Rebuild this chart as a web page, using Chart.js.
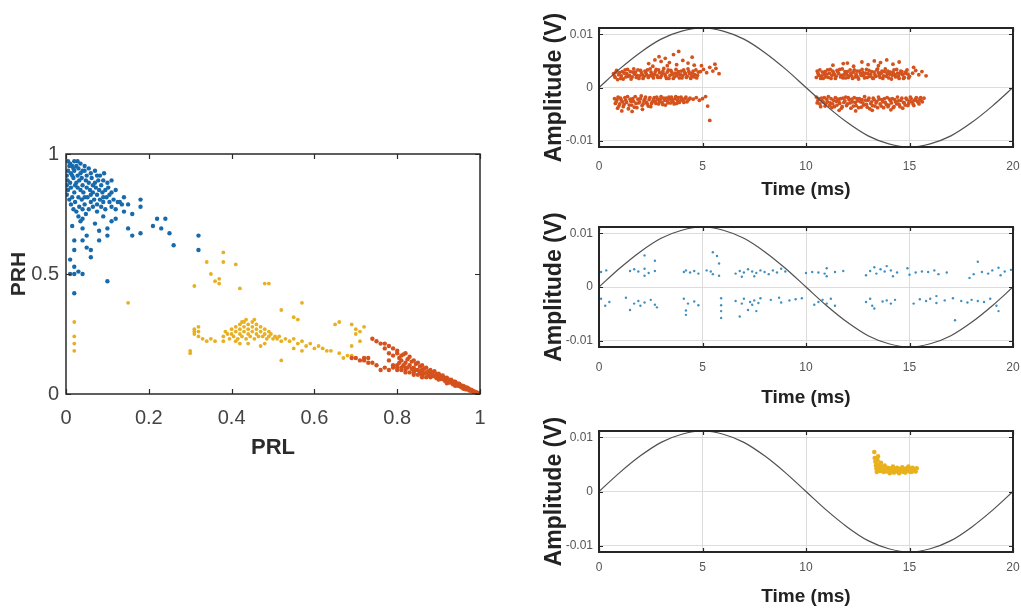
<!DOCTYPE html>
<html><head><meta charset="utf-8">
<script src="https://cdn.jsdelivr.net/npm/chart.js@4.4.0/dist/chart.umd.min.js"></script>
<style>
html,body{margin:0;padding:0;background:#fff;}
#wrap{position:relative;width:1021px;height:609px;overflow:hidden;background:#fff;}
canvas{position:absolute;}
</style></head><body>
<div id="wrap">
<canvas id="c0" width="520" height="345" style="left:0;top:120px;width:520px;height:345px"></canvas>
<canvas id="c1" width="491" height="205" style="left:530px;top:0;width:491px;height:205px"></canvas>
<canvas id="c2" width="491" height="205" style="left:530px;top:205px;width:491px;height:205px"></canvas>
<canvas id="c3" width="491" height="199" style="left:530px;top:410px;width:491px;height:199px"></canvas>
</div>
<script>
// ---------- DATA ----------
// Left scatter: flat [PRL, PRH, PRL, PRH, ...]
const leftBlue = [
0.005,.97,0.01,.96,0.015,.95,0.02,.97,0.025,.95,0.03,.94,0.035,.96,0.04,.93,
0.005,.93,0.012,.92,0.02,.93,0.028,.91,0.035,.92,0.045,.93,0.05,.91,0.055,.94,0.06,.92,0.07,.93,0.075,.91,
0.004,.89,0.01,.88,0.018,.9,0.025,.88,0.032,.89,0.04,.87,0.048,.89,0.055,.88,0.062,.9,0.07,.88,0.078,.89,0.085,.87,0.09,.89,0.1,.88,0.11,.89,
0.005,.85,0.012,.86,0.02,.84,0.028,.86,0.035,.85,0.042,.84,0.05,.86,0.058,.85,0.065,.84,0.072,.86,0.08,.85,0.088,.84,0.095,.85,0.102,.86,0.11,.84,0.12,.85,
0.008,.81,0.015,.82,0.022,.8,0.03,.82,0.038,.81,0.045,.79,0.052,.82,0.06,.8,0.068,.81,0.075,.79,0.082,.81,0.09,.8,0.098,.82,0.105,.8,0.115,.81,0.125,.8,0.135,.79,
0.018,.77,0.025,.76,0.032,.78,0.04,.77,0.048,.75,0.055,.77,0.065,.78,0.075,.76,0.085,.78,0.095,.77,0.11,.78,0.12,.77,
0.03,.74,0.04,.73,0.035,.72,
0.008,.95,0.018,.94,0.028,.97,0.045,.95,0.015,.91,0.038,.9,0.065,.87,0.082,.91,0.092,.92,0.022,.87,0.045,.82,0.06,.83,0.075,.83,0.09,.82,0.105,.83,0.002,.91,0.002,.87,0.002,.83,0.012,.79,
0.18,.81,0.18,.78,0.15,.69,0.16,.66,0.18,.67,0.21,.7,0.22,.73,0.23,.69,0.24,.73,0.25,.67,0.26,.62,0.32,.66,0.32,.6,
0.1,.69,0.1,.66,0.08,.64,0.08,.68,0.06,.57,0.06,.6,0.04,.64,0.02,.6,0.02,.64,0.04,.69,0.01,.5,0.02,.5,0.03,.51,0.04,.5,
0.02,.42,0.02,.53,0.1,.47,0.05,.66,0.07,.71,0.11,.72,0.13,.8,0.14,.82,0.15,.79,0.14,.76,0.16,.75,0.12,.73,0.09,.74,0.05,.61,0.01,.56,0.015,.7
];
const leftYellow = [
0.38,.24,0.385,.26,0.39,.25,0.395,.23,0.4,.27,0.4,.25,0.405,.24,0.41,.28,0.41,.26,0.415,.23,0.42,.29,0.42,.27,0.42,.25,0.425,.24,
0.43,.3,0.43,.28,0.43,.26,0.435,.23,0.44,.29,0.44,.27,0.44,.25,0.445,.24,0.45,.3,0.45,.28,0.45,.26,0.455,.23,0.46,.29,0.46,.27,
0.46,.25,0.465,.24,0.47,.28,0.47,.26,0.475,.24,0.48,.27,0.48,.25,0.485,.23,0.49,.26,0.49,.24,0.495,.25,0.5,.23,0.505,.24,0.51,.23,
0.515,.24,0.52,.22,0.41,.22,0.44,.21,0.48,.21,0.425,.3,0.455,.31,0.435,.31,0.47,.2,0.42,.21,
0.31,.27,0.31,.25,0.32,.28,0.32,.24,0.33,.23,0.34,.22,0.35,.23,0.36,.22,0.38,.22,0.31,.26,0.32,.26,
0.3,.17,0.3,.18,0.15,.38,0.02,.3,0.02,.24,0.02,.21,0.02,.18,
0.31,.45,0.34,.55,0.35,.5,0.36,.47,0.37,.46,0.37,.48,0.38,.59,0.38,.55,0.41,.54,0.42,.44,0.48,.46,0.49,.46,
0.57,.38,0.52,.35,0.55,.32,0.56,.31,0.65,.29,0.66,.3,0.52,.14,
0.69,.29,0.7,.27,0.71,.26,0.72,.28,0.7,.25,0.71,.22,0.69,.2,
0.53,.23,0.54,.22,0.55,.23,0.56,.21,0.57,.22,0.58,.2,0.59,.21,0.6,.19,0.61,.2,0.62,.19,0.63,.18,0.64,.18,0.55,.19,0.57,.18,
0.66,.17,0.68,.16,0.69,.16,0.67,.15
];
const leftOrange = [
0.8,.17,0.8,.12,0.805,.15,0.805,.13,0.81,.16,0.81,.14,0.81,.11,0.815,.165,0.815,.12,0.82,.17,0.82,.13,0.82,.1,0.825,.145,0.825,.11,
0.83,.155,0.83,.12,0.835,.135,0.835,.105,0.84,.14,0.84,.11,0.84,.09,0.845,.125,0.845,.1,0.85,.13,0.85,.1,0.855,.115,0.855,.09,
0.86,.12,0.86,.1,0.86,.08,0.865,.105,0.865,.085,0.87,.11,0.87,.09,0.875,.095,0.875,.078,0.88,.1,0.88,.085,0.88,.07,0.885,.09,
0.885,.074,0.89,.095,0.89,.075,0.895,.082,0.895,.066,0.9,.085,0.9,.07,0.9,.06,0.905,.076,0.905,.062,0.91,.077,0.91,.062,
0.915,.068,0.915,.055,0.92,.068,0.92,.055,0.92,.045,0.925,.06,0.925,.048,0.93,.06,0.93,.048,0.935,.052,0.935,.04,0.94,.051,
0.94,.04,0.94,.034,0.945,.044,0.945,.035,0.95,.043,0.95,.033,0.955,.036,0.955,.028,0.96,.034,0.96,.026,0.96,.022,0.965,.028,
0.965,.02,0.97,.026,0.97,.019,0.975,.02,0.975,.014,0.98,.017,0.98,.012,0.985,.012,0.985,.008,0.99,.009,0.99,.006,0.995,.004,1.0,.001,
0.74,.23,0.75,.22,0.76,.21,0.77,.21,0.78,.2,0.79,.19,0.8,.18,0.79,.16,0.78,.14,0.77,.19,0.78,.17,
0.76,.1,0.77,.11,0.78,.1,0.79,.11,0.8,.1,0.81,.1,0.82,.09,0.83,.09,0.84,.08,0.85,.08,0.86,.07,0.87,.07,0.79,.12,0.8,.11,0.82,.11,0.84,.1,0.86,.09,
0.7,.15,0.71,.14,0.72,.14,0.73,.13,0.72,.15,0.69,.15,0.74,.13,0.75,.12,0.73,.15
];
const prlTicks = [0, 0.2, 0.4, 0.6, 0.8, 1];
const prhTicks = [0, 0.5, 1];

// Reference sine (time in ms, amplitude in V)
const sineT = [0,1,2,3,4,5,6,7,8,9,10,11,12,13,14,15,16,17,18,19,20];
const sineV = [0,.0035,.0066,.0091,.0106,.0112,.0106,.0091,.0066,.0035,0,-.0035,-.0066,-.0091,-.0106,-.0112,-.0106,-.0091,-.0066,-.0035,0];
const timeTicks = [0, 5, 10, 15, 20];
const ampTicks = [-0.01, 0, 0.01];

// Top panel (orange cluster), flat [t, V, ...]
const panel1Orange = [
0.7,.0026,0.78,.0019,0.85,.0032,0.95,.0024,1.05,.0017,1.12,.003,1.22,.0027,1.3,.002,1.38,.0034,1.47,.0023,1.55,.0016,1.63,.0029,
1.72,.0025,1.8,.0019,1.88,.0033,1.97,.0022,2.05,.0028,2.13,.0017,2.22,.0031,2.3,.0024,2.38,.0019,2.47,.0035,2.55,.0026,2.63,.0018,
2.72,.003,2.8,.0023,2.88,.0033,2.97,.0019,3.05,.0027,3.13,.0036,3.22,.0021,3.3,.0029,3.38,.0017,3.47,.0032,3.55,.0025,3.63,.002,
3.72,.0034,3.8,.0026,3.88,.0018,3.97,.0031,4.05,.0023,4.13,.0029,4.22,.0019,4.3,.0035,4.38,.0026,4.47,.0021,4.55,.0031,4.63,.0024,
4.72,.0018,4.8,.0029,
4.9,.003,5.05,.0034,5.2,.0028,5.35,.0038,5.5,.0031,5.65,.0036,5.8,.0026,4.95,.0041,5.6,.0044,
2.4,.0045,2.7,.0052,2.9,.0058,3.0,.0049,3.2,.0055,3.4,.0047,3.6,.0062,3.85,.0068,4.05,.0051,4.3,.0046,4.5,.0057,3.3,.0041,2.6,.004,3.75,.0043,4.6,.0042,
0.75,-.0021,0.83,-.0027,0.92,-.0018,1.0,-.0031,1.08,-.0024,1.17,-.0036,1.25,-.0019,1.33,-.0028,1.42,-.004,1.5,-.0022,1.58,-.0033,
1.67,-.0026,1.75,-.0017,1.83,-.0038,1.92,-.0029,2.0,-.0021,2.08,-.0034,2.17,-.0025,2.25,-.0018,2.33,-.0031,2.42,-.0023,2.5,-.0036,
2.58,-.0027,2.67,-.0019,2.75,-.003,2.83,-.0022,2.92,-.0026,3.0,-.0017,3.08,-.0032,3.17,-.0024,3.25,-.002,3.33,-.0029,3.42,-.0022,
3.5,-.0018,3.58,-.0027,3.67,-.0021,3.75,-.003,3.83,-.0019,3.92,-.0025,4.0,-.0021,4.1,-.0028,4.2,-.0018,4.3,-.0024,4.4,-.002,
4.55,-.0022,4.7,-.0019,4.85,-.0024,5.0,-.0021,5.15,-.0017,5.25,-.0035,5.35,-.0062,1.1,-.0044,1.6,-.0045,2.1,-.0041,0.9,-.0039,
10.5,.0019,10.58,.0027,10.67,.0033,10.75,.0022,10.83,.0017,10.92,.003,11.0,.0025,11.08,.0019,11.17,.0034,11.25,.0023,11.33,.0028,
11.42,.0017,11.5,.0032,11.58,.0026,11.67,.002,11.75,.0035,11.83,.0024,11.92,.0018,12.0,.003,12.08,.0022,12.17,.0027,12.25,.0017,
12.33,.0033,12.42,.0025,12.5,.002,12.58,.0031,12.67,.0023,12.75,.0028,12.83,.0018,12.92,.0034,13.0,.0026,13.08,.0021,13.17,.003,
13.25,.0017,13.33,.0024,13.42,.0033,13.5,.0028,13.58,.0019,13.67,.0031,13.75,.0022,13.83,.0035,13.92,.0026,14.0,.0018,14.08,.0029,
14.17,.0023,14.25,.0033,14.33,.002,14.42,.0027,14.5,.0017,14.58,.0031,14.67,.0024,14.75,.0019,14.83,.003,14.92,.0025,15.0,.0021,
15.15,.0027,15.3,.0032,15.45,.0024,15.6,.003,15.8,.0022,15.2,.0038,
11.3,.0042,11.8,.0045,12.3,.004,12.7,.0048,13.0,.0043,13.3,.005,13.6,.0047,13.9,.0052,14.2,.0044,14.5,.0048,12.0,.0046,13.5,.0041,
10.5,-.0018,10.58,-.0024,10.67,-.0031,10.75,-.002,10.83,-.0027,10.92,-.0035,11.0,-.0022,11.08,-.0017,11.17,-.0029,11.25,-.0038,
11.33,-.0024,11.42,-.0019,11.5,-.0033,11.58,-.0026,11.67,-.0021,11.75,-.0036,11.83,-.0028,11.92,-.0018,12.0,-.0031,12.08,-.0023,
12.17,-.0039,12.25,-.0027,12.33,-.0019,12.42,-.0034,12.5,-.0025,12.58,-.0021,12.67,-.0037,12.75,-.0029,12.83,-.0017,12.92,-.0032,
13.0,-.0024,13.08,-.004,13.17,-.0027,13.25,-.002,13.33,-.0035,13.42,-.0026,13.5,-.0018,13.58,-.0031,13.67,-.0023,13.75,-.0038,
13.83,-.0028,13.92,-.0019,14.0,-.0033,14.08,-.0025,14.17,-.0021,14.25,-.0036,14.33,-.0027,14.42,-.0018,14.5,-.0032,14.58,-.0024,
14.67,-.0039,14.75,-.0029,14.83,-.002,14.92,-.0034,15.0,-.0026,15.08,-.0021,15.17,-.0031,15.25,-.0024,15.33,-.0019,15.42,-.0028,
15.5,-.0022,15.58,-.0025,15.7,-.002,11.6,-.0043,12.4,-.0044,13.2,-.0043,14.1,-.0042
];
// Additional samples inside the dense orange bands
const panel1OrangeBand = [
0.74,.0022,0.82,.0029,0.9,.0015,0.99,.0028,1.08,.0022,1.17,.0016,1.26,.0033,1.34,.0026,1.42,.0021,1.51,.003,1.6,.002,1.68,.0035,
1.76,.0029,1.84,.0023,1.93,.0017,2.01,.0032,2.09,.0024,2.18,.0021,2.26,.0028,2.34,.0033,2.43,.0022,2.51,.0029,2.59,.0021,2.68,.0025,
2.76,.0034,2.84,.0019,2.93,.0028,3.01,.0022,3.09,.0031,3.18,.0025,3.26,.0017,3.34,.0033,3.43,.0023,3.51,.0029,3.59,.0017,3.68,.0027,
3.76,.0022,3.84,.003,3.93,.0024,4.01,.0018,4.09,.0033,4.18,.0026,4.26,.0021,4.34,.003,4.43,.0017,4.51,.0027,4.59,.002,4.68,.0033,4.76,.0023,
0.79,-.003,0.87,-.0023,0.96,-.0035,1.04,-.002,1.13,-.0027,1.21,-.0032,1.29,-.0024,1.38,-.0017,1.46,-.0033,1.54,-.0026,1.63,-.0021,
1.71,-.0037,1.79,-.003,1.88,-.0022,1.96,-.0027,2.04,-.0016,2.13,-.0031,2.21,-.0022,2.29,-.0028,2.38,-.0035,2.46,-.0019,2.54,-.003,
2.63,-.0023,2.71,-.0026,2.79,-.0018,2.88,-.0031,2.96,-.0022,3.04,-.0028,3.13,-.002,3.21,-.0033,3.29,-.0025,3.38,-.0018,3.46,-.0029,
3.54,-.0023,3.63,-.0031,3.71,-.0017,3.79,-.0024,3.88,-.0028,3.96,-.0018,4.05,-.0024,4.15,-.0021,4.25,-.0027,4.35,-.0022,
10.54,.0031,10.62,.0023,10.71,.0017,10.79,.0029,10.88,.0024,10.96,.002,11.04,.0033,11.13,.0027,11.21,.0017,11.29,.0031,11.38,.0024,
11.46,.0021,11.54,.0029,11.63,.0034,11.71,.0023,11.79,.0018,11.88,.003,11.96,.0025,12.04,.0019,12.13,.0033,12.21,.0022,12.29,.0029,
12.38,.002,12.46,.0031,12.54,.0016,12.63,.0027,12.71,.0034,12.79,.0022,12.88,.0027,12.96,.0019,13.04,.0032,13.13,.0024,13.21,.0018,
13.29,.0029,13.38,.0021,13.46,.0035,13.54,.0023,13.63,.0027,13.71,.0017,13.79,.003,13.88,.0021,13.96,.0031,14.04,.0025,14.13,.0016,
14.21,.0028,14.29,.0024,14.38,.0034,14.46,.0021,14.54,.0026,14.63,.003,14.71,.0017,14.79,.0027,14.88,.0033,14.96,.0018,
10.54,-.0029,10.62,-.0021,10.71,-.0036,10.79,-.0025,10.88,-.0019,10.96,-.003,11.04,-.0027,11.13,-.0034,11.21,-.0021,11.29,-.0031,
11.38,-.0036,11.46,-.0026,11.54,-.0022,11.63,-.003,11.71,-.0039,11.79,-.002,11.88,-.0025,11.96,-.0034,12.04,-.0019,12.13,-.0029,
12.21,-.0022,12.29,-.0035,12.38,-.0028,12.46,-.0021,12.54,-.0038,12.63,-.0027,12.71,-.0023,12.79,-.0033,12.88,-.0024,12.96,-.0037,
13.04,-.002,13.13,-.003,13.21,-.0034,13.29,-.0023,13.38,-.0029,13.46,-.0038,13.54,-.0022,13.63,-.0035,13.71,-.0027,13.79,-.0021,
13.88,-.0032,13.96,-.0036,14.04,-.0022,14.13,-.0029,14.21,-.0038,14.29,-.0023,14.38,-.0031,14.46,-.0025,14.54,-.0036,14.63,-.002,
14.71,-.0028,14.79,-.0033,14.88,-.0023,14.96,-.003,15.04,-.0018,15.13,-.0027,15.21,-.0034,15.29,-.0022,15.38,-.0026,15.46,-.0031,
15.54,-.0019,15.62,-.0027
];
// Middle panel (blue cluster)
const panel2Blue = [
0.1,.0028,0.35,.0031,1.5,.003,1.7,.0033,1.9,.0029,2.2,.0034,2.2,.0021,2.4,.0026,2.2,.0059,2.7,.0049,2.7,.003,
4.1,.0028,4.2,.0031,4.4,.0027,4.6,.003,4.8,.0025,5.2,.0031,5.4,.0029,5.5,.0065,5.7,.0058,5.8,.0044,5.8,.0021,5.5,.0024,
6.6,.0025,6.8,.003,7.0,.0027,7.2,.0033,7.4,.0029,7.6,.0026,7.8,.0031,8.0,.0028,8.2,.0024,8.4,.0031,8.6,.0027,8.8,.0034,9.0,.0029,6.9,.0019,7.5,.002,
10.0,.0026,10.3,.0028,10.6,.0027,10.9,.0025,11.0,.0035,11.0,.002,11.4,.0028,11.8,.003,
12.9,.0022,13.1,.003,13.3,.0037,13.4,.0025,13.6,.0033,13.8,.0029,13.9,.0039,14.1,.0031,14.2,.002,14.4,.0027,
14.9,.0035,15.0,.0023,15.3,.0027,15.6,.0029,15.9,.0028,16.2,.0031,16.4,.0024,16.8,.0027,
17.9,.0017,18.1,.0024,18.3,.0047,18.5,.0028,18.8,.0025,19.0,.0031,19.3,.0036,19.4,.0022,19.6,.0029,19.9,.0032,
0.1,-.0022,0.3,-.0035,0.5,-.0028,1.3,-.002,1.5,-.0043,1.7,-.0031,1.9,-.0026,2.0,-.0035,2.2,-.0029,2.5,-.0024,2.7,-.0033,2.8,-.0038,
4.1,-.0022,4.2,-.0044,4.3,-.0031,4.6,-.0027,4.8,-.0034,4.2,-.0052,5.9,-.0021,5.9,-.0034,5.9,-.0045,5.9,-.0058,
6.6,-.0026,6.8,-.0055,6.9,-.0031,7.0,-.0022,7.2,-.0043,7.3,-.0028,7.4,-.0033,7.5,-.0025,7.6,-.0045,7.7,-.003,7.8,-.0021,
8.3,-.0024,8.7,-.002,8.8,-.0029,9.2,-.0025,9.5,-.0023,9.8,-.0021,
10.4,-.0033,10.6,-.0028,10.8,-.0024,11.0,-.0031,11.2,-.0022,11.4,-.0035,
12.9,-.0028,13.1,-.0022,13.2,-.0035,13.3,-.004,13.7,-.0027,13.9,-.0025,14.1,-.0031,14.3,-.0024,
15.2,-.0031,15.5,-.0023,15.8,-.0026,16.0,-.0022,16.3,-.0017,16.3,-.003,16.7,-.0025,
17.1,-.0021,17.2,-.0062,17.5,-.0026,17.8,-.0029,18.0,-.0024,18.3,-.0026,18.6,-.0028,18.9,-.0022,19.2,-.0035,19.3,-.0045
];
// Bottom panel (yellow cluster)
const panel3Yellow = [
13.3,.0073,13.32,.0062,13.35,.0055,13.38,.0048,13.4,.0042,13.45,.0058,13.5,.005,13.55,.0044,13.58,.0038,13.62,.0053,13.66,.0046,
13.7,.004,13.75,.0036,13.8,.0048,13.85,.0042,13.9,.0037,13.95,.0044,14.0,.0039,14.05,.0034,14.1,.0043,14.15,.0038,14.2,.0046,
14.25,.0035,14.3,.0041,14.35,.0037,14.4,.0044,14.45,.0039,14.5,.0034,14.55,.0042,14.6,.0038,14.65,.0045,14.7,.0036,14.75,.0041,
14.8,.0035,14.85,.0043,14.9,.0039,14.95,.0046,15.0,.0037,15.05,.0042,15.1,.0036,15.15,.0044,15.2,.0039,15.25,.0041,15.3,.0037,
15.35,.0043,13.48,.0065,13.42,.0036,13.52,.0039
];

// ---------- CHARTS ----------
const FONT = "'Liberation Sans',Arial,sans-serif";
const pts = a => { const r = []; for (let i = 0; i < a.length; i += 2) r.push({x: a[i], y: a[i+1]}); return r; };
const line = (t, v) => t.map((x, i) => ({x, y: v[i]}));

const framePlugin = {
  id: 'frame',
  afterDatasetsDraw(chart, args, o) {
    const {ctx, chartArea: a, scales: {x, y}} = chart;
    ctx.save();
    ctx.strokeStyle = o.color;
    ctx.lineWidth = 1.2;
    ctx.beginPath();
    x.ticks.forEach(t => { const p = Math.round(x.getPixelForValue(t.value)) + 0.5;
      ctx.moveTo(p, a.bottom); ctx.lineTo(p, a.bottom - o.tick);
      ctx.moveTo(p, a.top); ctx.lineTo(p, a.top + o.tick); });
    y.ticks.forEach(t => { const p = Math.round(y.getPixelForValue(t.value)) + 0.5;
      ctx.moveTo(a.left, p); ctx.lineTo(a.left + o.tick, p);
      ctx.moveTo(a.right, p); ctx.lineTo(a.right - o.tick, p); });
    ctx.stroke();
    ctx.lineWidth = o.width;
    ctx.strokeRect(a.left, a.top, a.right - a.left, a.bottom - a.top);
    ctx.restore();
  }
};

const fixedTicks = vals => s => { s.ticks = vals.map(v => ({value: v})); };
const fitX = h => s => { s.height = h; s.paddingLeft = 0; s.paddingRight = 0; };
const fitY = w => s => { s.width = w; s.paddingTop = 0; s.paddingBottom = 0; };
const fmt = v => String(+v.toFixed(4));

// Left scatter
new Chart(document.getElementById('c0'), {
  type: 'scatter',
  data: { datasets: [
    {data: pts(leftOrange), backgroundColor: '#d4521d', pointRadius: 2.2, borderWidth: 0},
    {data: pts(leftYellow), backgroundColor: '#e8b020', pointRadius: 1.9, borderWidth: 0},
    {data: pts(leftBlue), backgroundColor: '#176aab', pointRadius: 2.2, borderWidth: 0}
  ]},
  options: {
    responsive: false, animation: false, devicePixelRatio: 1,
    layout: {padding: {top: 34, right: 40, left: 0, bottom: 0}},
    plugins: {legend: {display: false}, tooltip: {enabled: false}, frame: {color: '#2a2a2a', width: 1.5, tick: 5}},
    scales: {
      x: {type: 'linear', min: 0, max: 1,
        afterBuildTicks: fixedTicks(prlTicks), afterFit: fitX(71),
        grid: {display: false, drawTicks: false}, border: {display: false},
        ticks: {padding: 12, color: '#444', font: {family: FONT, size: 20}, autoSkip: false, maxRotation: 0, callback: fmt},
        title: {display: true, text: 'PRL', color: '#2b2b2b', font: {family: FONT, size: 22, weight: 'bold', lineHeight: 1}, padding: {top: 0, bottom: 6}}
      },
      y: {type: 'linear', min: 0, max: 1,
        afterBuildTicks: fixedTicks(prhTicks), afterFit: fitY(66),
        grid: {display: false, drawTicks: false}, border: {display: false},
        ticks: {padding: 7, color: '#444', font: {family: FONT, size: 20}, autoSkip: false, callback: fmt},
        title: {display: true, text: 'PRH', color: '#2b2b2b', font: {family: FONT, size: 21, weight: 'bold', lineHeight: 1}, padding: {top: 9, bottom: 0}}
      }
    }
  },
  plugins: [framePlugin]
});

function timePanel(id, sets, xH, top, tickPad, titlePad) {
  const ds = [{data: line(sineT, sineV), showLine: true, borderColor: '#505050', borderWidth: 1.2, pointRadius: 0, cubicInterpolationMode: 'monotone', fill: false}];
  sets.forEach(s => ds.push({data: pts(s.d), backgroundColor: s.c, pointRadius: s.r, borderWidth: 0}));
  new Chart(document.getElementById(id), {
    type: 'scatter',
    data: { datasets: ds },
    options: {
      responsive: false, animation: false, devicePixelRatio: 1,
      layout: {padding: {top: top, right: 8, left: 0, bottom: 0}},
      plugins: {legend: {display: false}, tooltip: {enabled: false}, frame: {color: '#262626', width: 2, tick: 4}},
      scales: {
        x: {type: 'linear', min: 0, max: 20,
          afterBuildTicks: fixedTicks(timeTicks), afterFit: fitX(xH),
          grid: {color: '#dcdcdc', lineWidth: 1, drawTicks: false}, border: {display: false},
          ticks: {padding: tickPad, color: '#555', font: {family: FONT, size: 12}, autoSkip: false, maxRotation: 0},
          title: {display: true, text: 'Time (ms)', color: '#222', font: {family: FONT, size: 19, weight: 'bold', lineHeight: 1}, padding: {top: 0, bottom: titlePad}}
        },
        y: {type: 'linear', min: -0.0112, max: 0.0112,
          afterBuildTicks: fixedTicks(ampTicks), afterFit: fitY(69),
          grid: {color: '#dcdcdc', lineWidth: 1, drawTicks: false}, border: {display: false},
          ticks: {padding: 6, color: '#555', font: {family: FONT, size: 12}, autoSkip: false, callback: fmt},
          title: {display: true, text: 'Amplitude (V)', color: '#222', font: {family: FONT, size: 23, weight: 'bold', lineHeight: 1}, padding: {top: 13, bottom: 0}}
        }
      }
    },
    plugins: [framePlugin]
  });
}
timePanel('c1', [{d: panel1Orange, c: '#d4521d', r: 1.9}, {d: panel1OrangeBand, c: '#d4521d', r: 1.9}], 58, 28, 12, 5.5);
timePanel('c2', [{d: panel2Blue, c: '#3f8fc0', r: 1.2}], 63, 22, 13, 2.5);
timePanel('c3', [{d: panel3Yellow, c: '#e9b11c', r: 2.3}], 57, 21, 8, 2.5);
</script>
</body></html>
